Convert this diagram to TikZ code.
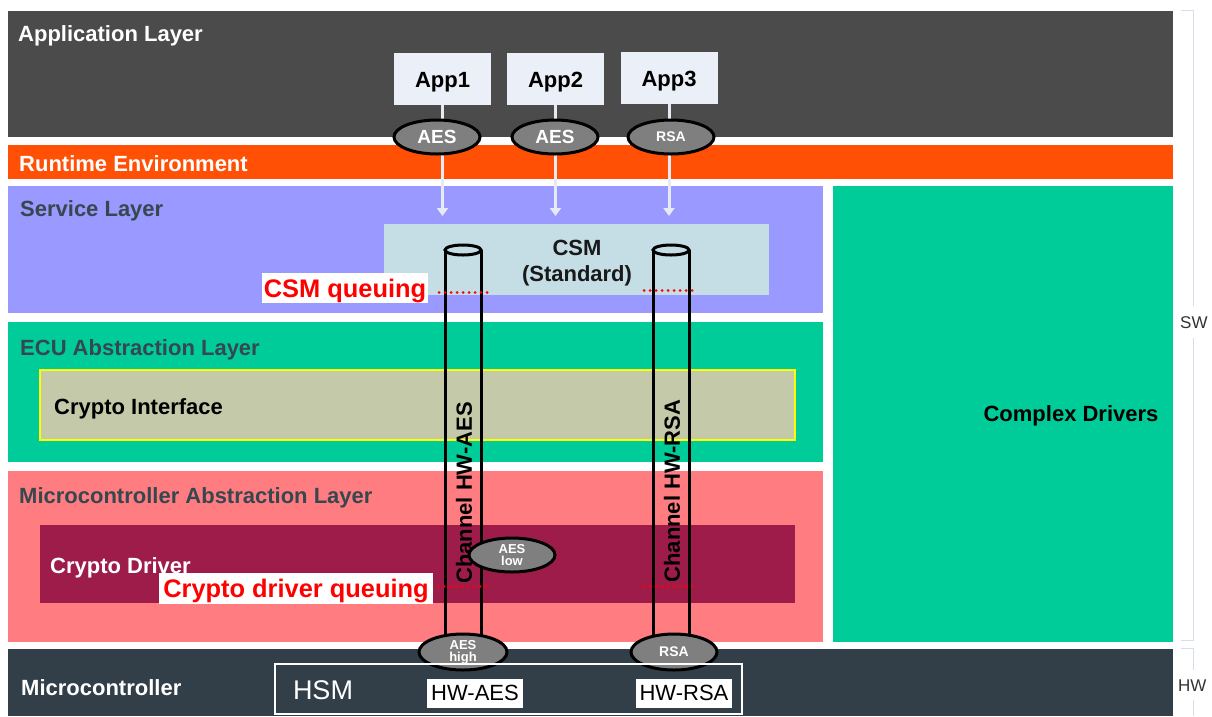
\documentclass[tikz,border=0pt]{standalone}
\usepackage{fontspec}
\setmainfont{Liberation Sans}
\usetikzlibrary{shapes.geometric,arrows.meta}
\definecolor{applc}{HTML}{4B4B4B}
\definecolor{rtec}{HTML}{FF5005}
\definecolor{servc}{HTML}{9999FF}
\definecolor{ecuc}{HTML}{00CC99}
\definecolor{cifill}{HTML}{C4CAA9}
\definecolor{cibord}{HTML}{FFFF00}
\definecolor{mcalc}{HTML}{FF7C80}
\definecolor{cdrvc}{HTML}{9E1C4A}
\definecolor{mcuc}{HTML}{333F48}
\definecolor{appfill}{HTML}{EBEFF7}
\definecolor{csmfill}{HTML}{C5DEE5}
\definecolor{ovalgrey}{HTML}{7F7F7F}
\definecolor{arrowc}{HTML}{E6EAF2}
\definecolor{darktxt}{HTML}{37474F}
\definecolor{brkc}{HTML}{D5DEEA}
\tikzset{
  blk/.style={draw=none, inner sep=0pt, outer sep=0pt, anchor=north west},
  ttl/.style={anchor=west, inner sep=0pt, font=\fontsize{22}{24}\selectfont\bfseries},
  appbox/.style={fill=appfill, minimum width=97pt, minimum height=52pt, inner sep=0pt, text height=16pt, text depth=0pt, font=\fontsize{22}{24}\selectfont\bfseries},
  oval/.style={ellipse, draw=black, line width=3pt, fill=ovalgrey, text=white, minimum width=86pt, minimum height=34pt, inner sep=0pt, align=center},
  qlabel/.style={fill=white, text=red, inner sep=0pt, text height=18pt, text depth=0pt, font=\fontsize{25.4}{27}\selectfont\bfseries},
  qdot/.style={red, line width=3pt, line cap=round, dash pattern=on 0.2pt off 5.8pt},
  tube/.style={line width=3pt, black},
  arr/.style={draw=arrowc, line width=3pt, -{Triangle[width=11pt,length=8pt]}},
  hwlab/.style={fill=white, text=black, inner sep=2pt, minimum width=96pt, minimum height=29pt, font=\fontsize{22}{24}\selectfont},
  brk/.style={draw=brkc, line width=1pt},
  side/.style={text=black!80, inner sep=0pt, anchor=west, font=\fontsize{17}{19}\selectfont},
}
\begin{document}
\begin{tikzpicture}[x=1pt,y=-1pt]
\useasboundingbox (0,0) rectangle (1212,716);
% layers
\node[blk, fill=applc, minimum width=1165pt, minimum height=126pt] (appl) at (8,11) {};
\node[blk, fill=rtec, minimum width=1165pt, minimum height=34pt] (rte) at (8,145) {};
\node[blk, fill=servc, minimum width=815pt, minimum height=127pt] (serv) at (8,186) {};
\node[blk, fill=ecuc, minimum width=340pt, minimum height=456pt] (cdd) at (833,186) {};
\node[blk, fill=ecuc, minimum width=815pt, minimum height=140pt] (ecu) at (8,322) {};
\node[blk, fill=cifill, draw=cibord, line width=2pt, minimum width=755pt, minimum height=70pt] (ci) at (40,370) {};
\node[blk, fill=mcalc, minimum width=815pt, minimum height=171pt] (mcal) at (8,471) {};
\node[blk, fill=cdrvc, minimum width=755pt, minimum height=78pt] (cdrv) at (40,525) {};
\node[blk, fill=mcuc, minimum width=1165pt, minimum height=67pt] (mcu) at (8,649) {};
\node[blk, fill=csmfill, minimum width=385pt, minimum height=71pt] (csm) at (384,224) {};
% titles
\node[ttl, text=white] (tappl) at (18,36) {Application Layer};
\node[ttl, text=white] (trte) at (19,164) {Runtime Environment};
\node[ttl, text=darktxt] (tserv) at (20,211) {Service Layer};
\node[ttl, text=darktxt] (tecu) at (20,350) {ECU Abstraction Layer};
\node[ttl, text=darktxt] (tmcal) at (19,498) {Microcontroller Abstraction Layer};
\node[ttl, text=white] (tmcu) at (21,688) {Microcontroller};
\node[ttl, text=black] (tci) at (54,409) {Crypto Interface};
\node[ttl, text=white] (tcdrv) at (50,568) {Crypto Driver};
\node[ttl, text=black, anchor=center] (tcdd) at (1071,416) {Complex Drivers};
\node[font=\fontsize{22}{26}\selectfont\bfseries, text=black!90, align=center, inner sep=0pt] (tcsm) at (577,263.5) {CSM\\(Standard)};
% apps
\node[appbox] (app1) at (442.5,79) {App1};
\node[appbox] (app2) at (555.5,79) {App2};
\node[appbox] (app3) at (669,78) {App3};
\coordinate (e1) at (442.5,216);
\coordinate (e2) at (555.5,216);
\coordinate (e3) at (669,216);
\draw[arr] (app1.south) -- (e1);
\draw[arr] (app2.south) -- (e2);
\draw[arr] (app3.south) -- (e3);
\node[oval, font=\fontsize{19}{21}\selectfont\bfseries] (o1) at (437,137) {AES};
\node[oval, font=\fontsize{19}{21}\selectfont\bfseries] (o2) at (555,137) {AES};
\node[oval, font=\fontsize{14}{16}\selectfont\bfseries] (o3) at (671,137) {RSA};
% tubes
\draw[tube] (445,250) -- (445,645);
\draw[tube] (481,250) -- (481,645);
\draw[tube] (463,250) ellipse [x radius=18, y radius=5];
\draw[tube] (653,250) -- (653,645);
\draw[tube] (689,250) -- (689,645);
\draw[tube] (671,250) ellipse [x radius=18, y radius=5];
\node[rotate=90, inner sep=0pt, font=\fontsize{22}{24}\selectfont\bfseries] (ch1) at (464,493) {Channel HW-AES};
\node[rotate=90, inner sep=0pt, font=\fontsize{22}{24}\selectfont\bfseries] (ch2) at (672,491) {Channel HW-RSA};
% queuing
\node[qlabel, minimum width=166pt, minimum height=30pt] (q1) at (345,288) {CSM queuing};
\node[qlabel, minimum width=274pt, minimum height=31pt] (q2) at (296,588.5) {Crypto driver queuing};
\coordinate (d1a) at (439,292); \coordinate (d1b) at (492,292);
\coordinate (d2a) at (644,290); \coordinate (d2b) at (697,290);
\coordinate (d3a) at (438,586); \coordinate (d3b) at (491,586);
\coordinate (d4a) at (644,586); \coordinate (d4b) at (697,586);
\draw[qdot] (d1a) -- (d1b);
\draw[qdot] (d2a) -- (d2b);
\draw[qdot] (d3a) -- (d3b);
\draw[qdot] (d4a) -- (d4b);
% lower ovals
\node[oval, minimum height=34pt, font=\fontsize{13}{14}\selectfont\bfseries] (olow) at (512,555) {AES\\[-2pt]low};
\node[oval, minimum width=88pt, minimum height=36pt, font=\fontsize{13}{14}\selectfont\bfseries] (ohigh) at (463,652) {AES\\[-2pt]high};
\node[oval, minimum width=86pt, minimum height=36pt, font=\fontsize{14}{16}\selectfont\bfseries] (orsa) at (674,652) {RSA};
% HSM
\node[blk, draw=white, line width=2.5pt, minimum width=467pt, minimum height=50pt] (hsm) at (275,664) {};
\node[inner sep=0pt, text=white, font=\fontsize{27}{29}\selectfont] (thsm) at (323,690) {HSM};
\node[hwlab] (hwaes) at (475,693) {HW-AES};
\node[hwlab] (hwrsa) at (684,693) {HW-RSA};
% SW / HW bracket
\node[side] (sw) at (1180,323) {SW};
\node[side] (hw) at (1178,686) {HW};
\coordinate (b1) at (1181,10); \coordinate (b2) at (1193,10);
\coordinate (b3) at (1193,306); \coordinate (b4) at (1193,338);
\coordinate (b5) at (1193,640); \coordinate (b6) at (1181,640);
\draw[brk] (b1) -- (b2) -- (b3);
\draw[brk] (b4) -- (b5) -- (b6);
\coordinate (c1) at (1181,648); \coordinate (c2) at (1193,648);
\coordinate (c3) at (1193,670); \coordinate (c4) at (1193,700);
\coordinate (c5) at (1193,716);
\draw[brk] (c1) -- (c2) -- (c3);
\draw[brk] (c4) -- (c5);
\end{tikzpicture}
\end{document}
